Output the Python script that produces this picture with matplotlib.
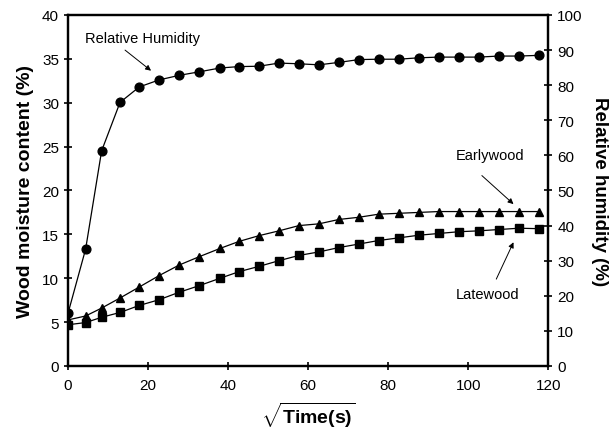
import matplotlib
matplotlib.use("Agg")
import matplotlib.pyplot as plt

# sqrt(time) positions of the measurements
sqrt_time = [0, 4.4, 8.4, 13.0, 17.8, 22.75, 27.75, 32.75, 38.0, 42.75, 47.7, 52.7,
             57.7, 62.7, 67.7, 72.7, 77.6, 82.6, 87.6, 92.6, 97.6, 102.6, 107.6,
             112.6, 117.6]

# relative humidity (%), right axis
rel_humidity = [15.0, 33.3, 61.3, 75.1, 79.5, 81.5, 82.8, 83.8, 84.9, 85.3, 85.4,
                86.3, 86.1, 85.8, 86.5, 87.3, 87.4, 87.4, 87.8, 88.0, 88.0, 88.0,
                88.3, 88.3, 88.5]

# wood moisture content (%), left axis
earlywood = [5.25, 5.7, 6.6, 7.75, 9.0, 10.3, 11.5, 12.45, 13.4, 14.2, 14.85, 15.4,
             16.0, 16.2, 16.7, 16.95, 17.3, 17.4, 17.5, 17.6, 17.6, 17.6, 17.6,
             17.6, 17.6]
latewood = [4.7, 4.95, 5.55, 6.1, 6.9, 7.55, 8.4, 9.15, 10.0, 10.75, 11.35, 12.0,
            12.6, 13.0, 13.5, 13.9, 14.3, 14.6, 14.9, 15.1, 15.3, 15.4, 15.55,
            15.7, 15.65]

plt.rcParams["font.family"] = ["Liberation Sans", "DejaVu Sans"]
plt.rcParams["mathtext.fontset"] = "custom"
plt.rcParams["mathtext.rm"] = "Liberation Sans"
plt.rcParams["mathtext.bf"] = "Liberation Sans:bold"

fig = plt.figure(figsize=(6.11, 4.31), dpi=100)
ax = fig.add_axes([0.1113, 0.1485, 0.7861, 0.8144])
ax2 = ax.twinx()

ax.plot(sqrt_time, earlywood, marker="^", color="black", linewidth=0.9,
        markersize=6, zorder=3)
ax.plot(sqrt_time, latewood, marker="s", color="black", linewidth=0.9,
        markersize=5.5, zorder=3)
ax2.plot(sqrt_time, rel_humidity, marker="o", color="black", linewidth=0.9,
         markersize=6.3, zorder=3)

ax.set_xlim(0, 120)
ax.set_ylim(0, 40)
ax2.set_ylim(0, 100)
ax.set_xticks(range(0, 121, 20))
ax.set_yticks(range(0, 41, 5))
ax2.set_yticks(range(0, 101, 10))

for a in (ax, ax2):
    for s in a.spines.values():
        s.set_linewidth(1.6)
    a.tick_params(direction="inout", length=6, width=1.2, labelsize=11)
ax.tick_params(axis="x", pad=6)

ax.set_ylabel("Wood moisture content (%)", fontsize=14, fontweight="bold",
              labelpad=6)
ax2.set_ylabel("Relative humidity (%)", fontsize=13.5, fontweight="bold",
               rotation=270, labelpad=18)
ax.set_xlabel(r"$\sqrt{\mathbf{Time(s)}}$", fontsize=14, labelpad=5)

arrow = dict(arrowstyle="-|>", color="black", lw=0.7, mutation_scale=8,
             shrinkA=0, shrinkB=0)
ax.annotate("", xy=(20.75, 33.65), xytext=(14.25, 36.0), arrowprops=arrow)
ax.text(4.25, 37.4, "Relative Humidity", fontsize=10.5, va="center", ha="left")
ax.annotate("", xy=(111.3, 18.45), xytext=(103.4, 21.7), arrowprops=arrow)
ax.text(105.5, 24.0, "Earlywood", fontsize=10.5, va="center", ha="center")
ax.annotate("", xy=(111.3, 14.1), xytext=(107.0, 9.9), arrowprops=arrow)
ax.text(104.9, 8.2, "Latewood", fontsize=10.5, va="center", ha="center")

fig.savefig("out.png", dpi=100)
